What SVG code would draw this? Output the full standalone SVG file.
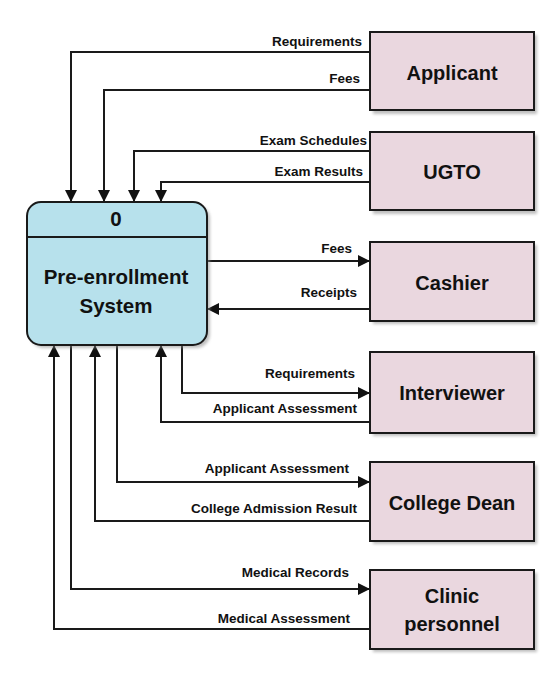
<svg xmlns="http://www.w3.org/2000/svg" width="560" height="675" viewBox="0 0 560 675">
<style>
.bg{fill:#ffffff}
.ent{fill:#EAD7DF;stroke:#1a1a1a;stroke-width:2}
.shadow{fill:#8a8a8a;opacity:0.55}
.proc{fill:#B7E1EC;stroke:#1a1a1a;stroke-width:2}
.flow{fill:none;stroke:#1a1a1a;stroke-width:2}
.lbl{font-family:"Liberation Sans",Arial,sans-serif;font-weight:bold;font-size:13.5px;fill:#111;text-anchor:end}
.name{font-family:"Liberation Sans",Arial,sans-serif;font-weight:bold;font-size:20px;fill:#111;text-anchor:middle}
.pname{font-family:"Liberation Sans",Arial,sans-serif;font-weight:bold;font-size:20.5px;fill:#111;text-anchor:middle}
</style>
<defs>
<marker id="arr" markerUnits="userSpaceOnUse" markerWidth="12" markerHeight="12" refX="12" refY="6" orient="auto" viewBox="0 0 12 12">
<path d="M0,0 L12,6 L0,12 z" fill="#111"/>
</marker>
<filter id="blur" x="-10%" y="-10%" width="130%" height="130%"><feGaussianBlur stdDeviation="1.5"/></filter>
</defs>
<rect class="bg" x="0" y="0" width="560" height="675"/>

<g id="connectors">
<path class="flow" d="M370,52 H71 V202" marker-end="url(#arr)"/>
<path class="flow" d="M370,90 H104 V202" marker-end="url(#arr)"/>
<path class="flow" d="M370,151 H134 V202" marker-end="url(#arr)"/>
<path class="flow" d="M370,182 H161 V202" marker-end="url(#arr)"/>
<path class="flow" d="M207,261 H370" marker-end="url(#arr)"/>
<path class="flow" d="M370,309 H207" marker-end="url(#arr)"/>
<path class="flow" d="M182,345 V393 H370" marker-end="url(#arr)"/>
<path class="flow" d="M370,422 H161 V345" marker-end="url(#arr)"/>
<path class="flow" d="M117,345 V482 H370" marker-end="url(#arr)"/>
<path class="flow" d="M370,521 H95 V345" marker-end="url(#arr)"/>
<path class="flow" d="M71,345 V589 H370" marker-end="url(#arr)"/>
<path class="flow" d="M370,629 H54 V345" marker-end="url(#arr)"/>
<text class="lbl" x="362" y="46">Requirements</text>
<text class="lbl" x="360" y="83">Fees</text>
<text class="lbl" x="367" y="145">Exam Schedules</text>
<text class="lbl" x="363" y="176">Exam Results</text>
<text class="lbl" x="352" y="253">Fees</text>
<text class="lbl" x="357" y="297">Receipts</text>
<text class="lbl" x="355" y="378">Requirements</text>
<text class="lbl" x="357" y="413">Applicant Assessment</text>
<text class="lbl" x="349" y="473">Applicant Assessment</text>
<text class="lbl" x="357" y="513">College Admission Result</text>
<text class="lbl" x="349" y="577">Medical Records</text>
<text class="lbl" x="350" y="623">Medical Assessment</text>
</g>

<g id="process0">
<rect class="shadow" x="30" y="205" width="180" height="143" rx="14" filter="url(#blur)"/>
<rect class="proc" x="27" y="202" width="180" height="143" rx="14"/>
<line x1="27" y1="237" x2="207" y2="237" stroke="#1a1a1a" stroke-width="2"/>
<text class="pname" x="116" y="226">0</text>
<text class="pname" x="116" y="284">Pre-enrollment</text>
<text class="pname" x="116" y="313">System</text>
</g>

<g id="applicant">
<rect class="shadow" x="373" y="35" width="164" height="79" filter="url(#blur)"/>
<rect class="ent" x="370" y="32" width="164" height="78"/>
<text class="name" x="452" y="80">Applicant</text>
</g>
<g id="ugto">
<rect class="shadow" x="373" y="135" width="164" height="79" filter="url(#blur)"/>
<rect class="ent" x="370" y="132" width="164" height="78"/>
<text class="name" x="452" y="179">UGTO</text>
</g>
<g id="cashier">
<rect class="shadow" x="373" y="245" width="164" height="79" filter="url(#blur)"/>
<rect class="ent" x="370" y="242" width="164" height="79"/>
<text class="name" x="452" y="290">Cashier</text>
</g>
<g id="interviewer">
<rect class="shadow" x="373" y="355" width="164" height="81" filter="url(#blur)"/>
<rect class="ent" x="370" y="352" width="164" height="81"/>
<text class="name" x="452" y="400">Interviewer</text>
</g>
<g id="collegedean">
<rect class="shadow" x="373" y="465" width="164" height="79" filter="url(#blur)"/>
<rect class="ent" x="370" y="462" width="164" height="79"/>
<text class="name" x="452" y="510">College Dean</text>
</g>
<g id="clinic">
<rect class="shadow" x="373" y="573" width="164" height="79" filter="url(#blur)"/>
<rect class="ent" x="370" y="570" width="164" height="79"/>
<text class="name" x="452" y="603">Clinic</text>
<text class="name" x="452" y="631">personnel</text>
</g>
</svg>
